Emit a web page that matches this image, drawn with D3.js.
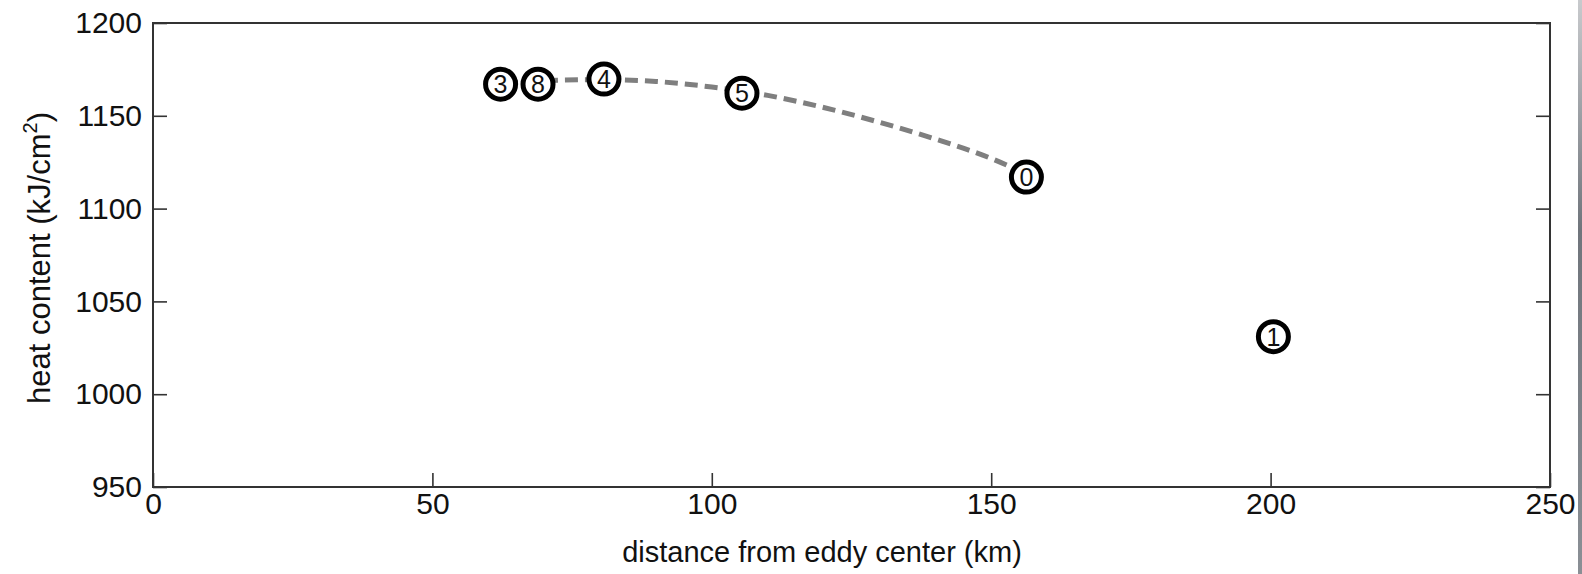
<!DOCTYPE html>
<html>
<head>
<meta charset="utf-8">
<script src="https://cdn.jsdelivr.net/npm/d3@7"></script>
<style>
  html, body { margin: 0; padding: 0; background: #fff; }
  svg { display: block; }
  text { font-family: "Liberation Sans", Arial, Helvetica, sans-serif; fill: #111; }
</style>
</head>
<body>
<script>
// Station labels with their distance from the eddy centre and heat content
const stationLabels = ["3", "8", "4", "5", "0", "1"];
const distanceKm   = [62.2, 68.9, 80.7, 105.4, 156.3, 200.5];
const heatContent  = [1167, 1167, 1169.8, 1162.2, 1117, 1031];

// Smoothed trend through the inner stations
const trendKm = [63, 70, 80, 90, 100, 110, 120, 130, 140, 150, 156];
const trendHc = [1167.5, 1169, 1169.5, 1168.5, 1165.5, 1161, 1154.5, 1146.5, 1137.5, 1127, 1119];

// Axis ticks
const xTicks = [0, 50, 100, 150, 200, 250];
const yTicks = [950, 1000, 1050, 1100, 1150, 1200];

const W = 1582, H = 574;
const plot = { left: 153, right: 1550, top: 23, bottom: 487 };
const tickLen = 14;
const fontFamily = "Liberation Sans, Arial, sans-serif";

const svg = d3.select("body").append("svg")
  .attr("width", W).attr("height", H);

svg.append("rect").attr("width", W).attr("height", H).attr("fill", "#fff");

// Grey strip along the right border
const grad = svg.append("defs").append("linearGradient")
  .attr("id", "edge").attr("x1", 0).attr("y1", 0).attr("x2", 0).attr("y2", 1);
grad.append("stop").attr("offset", "0%").attr("stop-color", "#c8cacd");
grad.append("stop").attr("offset", "40%").attr("stop-color", "#70757c");
grad.append("stop").attr("offset", "100%").attr("stop-color", "#8a8f95");
svg.append("rect").attr("x", 1578).attr("y", 0).attr("width", 4).attr("height", H)
  .attr("fill", "url(#edge)");

const x = d3.scaleLinear().domain([0, 250]).range([plot.left, plot.right]);
const y = d3.scaleLinear().domain([950, 1200]).range([plot.bottom, plot.top]);

const axisColor = "#333";
const fmt = d3.format("d");

// Bottom axis: inward ticks, labels below
const xAxis = svg.append("g")
  .attr("transform", `translate(0,${plot.bottom})`)
  .call(d3.axisBottom(x).tickValues(xTicks).tickFormat(fmt)
    .tickSizeInner(-tickLen).tickSizeOuter(0).tickPadding(6));
xAxis.select(".domain").remove();
xAxis.selectAll("line").attr("stroke", axisColor).attr("stroke-width", 1.6);
xAxis.selectAll("text").attr("font-size", 30).attr("font-family", fontFamily).attr("fill", "#111");

// Left axis
const yAxis = svg.append("g")
  .attr("transform", `translate(${plot.left},0)`)
  .call(d3.axisLeft(y).tickValues(yTicks).tickFormat(fmt)
    .tickSizeInner(-tickLen).tickSizeOuter(0).tickPadding(11));
yAxis.select(".domain").remove();
yAxis.selectAll("line").attr("stroke", axisColor).attr("stroke-width", 1.6);
yAxis.selectAll("text").attr("font-size", 30).attr("font-family", fontFamily).attr("fill", "#111");

// Right axis (ticks only)
const yAxisR = svg.append("g")
  .attr("transform", `translate(${plot.right},0)`)
  .call(d3.axisRight(y).tickValues(yTicks).tickSizeInner(-tickLen).tickSizeOuter(0).tickFormat(""));
yAxisR.select(".domain").remove();
yAxisR.selectAll("line").attr("stroke", axisColor).attr("stroke-width", 1.6);

// Frame
svg.append("rect")
  .attr("x", plot.left).attr("y", plot.top)
  .attr("width", plot.right - plot.left).attr("height", plot.bottom - plot.top)
  .attr("fill", "none").attr("stroke", axisColor).attr("stroke-width", 2);

// Axis titles
svg.append("text")
  .attr("x", 822).attr("y", 562)
  .attr("text-anchor", "middle").attr("font-size", 29)
  .text("distance from eddy center (km)");

const yl = svg.append("text")
  .attr("transform", `translate(50,258) rotate(-90)`)
  .attr("text-anchor", "middle").attr("font-size", 31);
yl.append("tspan").text("heat content (kJ/cm");
yl.append("tspan").attr("font-size", 20).attr("dy", -13).text("2");
yl.append("tspan").attr("dy", 13).text(")");

// Dashed trend curve
const trend = trendKm.map((k, i) => [k, trendHc[i]]);
svg.append("path")
  .datum(trend)
  .attr("d", d3.line().x(d => x(d[0])).y(d => y(d[1])).curve(d3.curveMonotoneX))
  .attr("fill", "none")
  .attr("stroke", "#7f7f7f")
  .attr("stroke-width", 5)
  .attr("stroke-dasharray", "13,7");

// Station markers
const stations = stationLabels.map((s, i) => ({ s, km: distanceKm[i], hc: heatContent[i] }));
const g = svg.selectAll("g.station").data(stations).join("g")
  .attr("class", "station")
  .attr("transform", d => `translate(${x(d.km)},${y(d.hc)})`);
g.append("circle").attr("r", 15)
  .attr("fill", "#fff").attr("stroke", "#000").attr("stroke-width", 5);
g.append("text")
  .attr("text-anchor", "middle").attr("dy", "0.36em")
  .attr("font-size", 25).attr("fill", "#000")
  .text(d => d.s);
</script>
</body>
</html>
